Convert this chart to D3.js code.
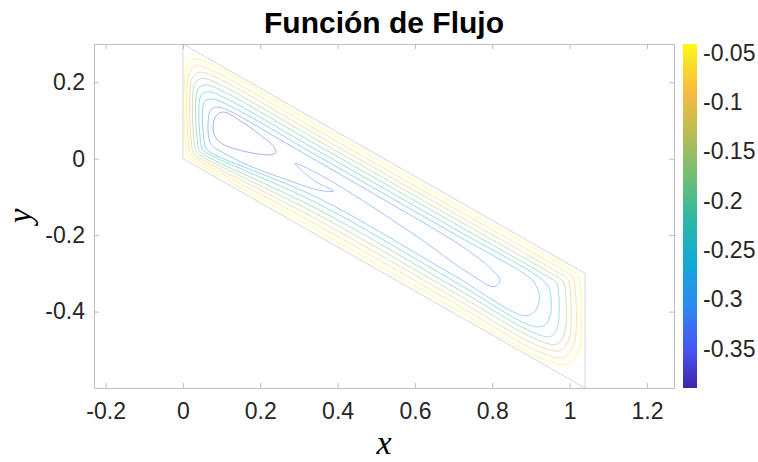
<!DOCTYPE html>
<html>
<head>
<meta charset="utf-8">
<script src="https://cdn.jsdelivr.net/npm/d3@7"></script>
<style>
  body { margin: 0; background: #fff; }
  text { font-family: "Liberation Sans", Arial, sans-serif; }
</style>
</head>
<body>
<div id="chart"></div>
<script>

/* contour levels, from the vortex eye outwards */
var levels = [-0.36, -0.32, -0.28, -0.24, -0.20, -0.16, -0.12, -0.08, -0.04]

/* contour lines as [x, y] points, same order as levels */
var eyeLine = [[0.078,0.080],[0.082,0.105],[0.095,0.120],[0.110,0.121],[0.150,0.098],[0.200,0.062],[0.236,0.030],[0.240,0.016],[0.225,0.010],[0.190,0.013],[0.140,0.024],[0.100,0.040],[0.083,0.058]]
var forkLine = [[0.066,0.060],[0.066,0.105],[0.072,0.128],[0.090,0.135],[0.130,0.120],[0.220,0.068],[0.350,-0.008],[0.550,-0.125],[0.720,-0.228],[0.790,-0.282],[0.820,-0.318],[0.805,-0.335],[0.740,-0.300],[0.600,-0.200],[0.450,-0.100],[0.350,-0.040],[0.290,-0.012],[0.340,-0.058],[0.390,-0.085],[0.350,-0.082],[0.260,-0.052],[0.170,-0.018],[0.100,0.018],[0.074,0.035]]
var line28 = [[0.056,0.150],[0.056,0.038],[0.061,0.025],[0.081,0.011],[0.35,-0.103],[0.70,-0.305],[0.884,-0.411],[0.911,-0.398],[0.922,-0.365],[0.914,-0.333],[0.897,-0.312],[0.70,-0.196],[0.35,0.006],[0.124,0.137],[0.076,0.156]]
var line24 = [[0.047,0.166],[0.047,0.035],[0.052,0.022],[0.072,0.009],[0.35,-0.118],[0.70,-0.320],[0.904,-0.438],[0.935,-0.436],[0.950,-0.410],[0.952,-0.370],[0.946,-0.337],[0.927,-0.315],[0.70,-0.182],[0.35,0.020],[0.114,0.156],[0.067,0.175]]
var line20 = [[0.039,0.182],[0.039,0.032],[0.044,0.019],[0.064,0.005],[0.35,-0.133],[0.70,-0.335],[0.911,-0.457],[0.952,-0.465],[0.969,-0.440],[0.969,-0.331],[0.964,-0.322],[0.944,-0.309],[0.70,-0.168],[0.35,0.034],[0.104,0.176],[0.059,0.193]]
var line16 = [[0.031,0.197],[0.031,0.028],[0.036,0.016],[0.056,0.002],[0.35,-0.147],[0.70,-0.349],[0.919,-0.475],[0.967,-0.485],[0.987,-0.456],[0.987,-0.330],[0.982,-0.319],[0.962,-0.306],[0.70,-0.155],[0.35,0.047],[0.095,0.194],[0.050,0.210]]
var line12 = [[0.024,0.211],[0.024,0.024],[0.029,0.012],[0.049,-0.002],[0.35,-0.161],[0.70,-0.363],[0.922,-0.491],[0.976,-0.502],[0.999,-0.469],[0.999,-0.325],[0.994,-0.314],[0.974,-0.300],[0.70,-0.142],[0.35,0.060],[0.087,0.212],[0.043,0.226]]
var line08 = [[0.017,0.226],[0.017,0.020],[0.022,0.008],[0.042,-0.006],[0.35,-0.175],[0.70,-0.377],[0.925,-0.507],[0.986,-0.519],[1.012,-0.482],[1.012,-0.321],[1.007,-0.308],[0.987,-0.294],[0.70,-0.129],[0.35,0.073],[0.079,0.229],[0.036,0.243]]
var line04 = [[0.010,0.240],[0.010,0.016],[0.015,0.004],[0.035,-0.010],[0.35,-0.189],[0.70,-0.391],[0.929,-0.523],[0.996,-0.537],[1.025,-0.496],[1.025,-0.317],[1.020,-0.303],[1.000,-0.289],[0.70,-0.116],[0.35,0.086],[0.071,0.247],[0.028,0.259]]
var contourLines = [eyeLine, forkLine, line28, line24, line20, line16, line12, line08, line04]

/* the skewed cavity outline */
var boundaryX = [0, 0, 1.04, 1.04]
var boundaryY = [0, 0.3, -0.3, -0.6]

/* axes and colorbar */
var xTicks = [-0.2, 0, 0.2, 0.4, 0.6, 0.8, 1, 1.2]
var yTicks = [-0.4, -0.2, 0, 0.2]
var cbTicks = [-0.35, -0.3, -0.25, -0.2, -0.15, -0.1, -0.05]
var cbLimits = [-0.39, -0.041]
var parulaPos = [0, 0.11, 0.24, 0.365, 0.49, 0.62, 0.75, 0.87, 1]
var parulaColors = ["#3e26a8", "#4852f4", "#2d8bf0", "#13a9d6", "#2cb8a3", "#72bf73", "#c0bc52", "#fbbc3c", "#f9fb15"]

var layout = {
  width: 758,
  height: 462,
  plotLeft: 94,
  plotRight: 674,
  plotTop: 44,
  plotBottom: 388,
  xDomain: [-0.23, 1.27],
  yDomain: [-0.6, 0.3],
  cbLeft: 683,
  cbWidth: 14,
  tickLen: 5,
  tickFont: 23,
  axisColor: "#bdbdbd",
  textColor: "#262626",
}

var x = d3.scaleLinear().domain(layout.xDomain).range([layout.plotLeft, layout.plotRight])
var y = d3.scaleLinear().domain(layout.yDomain).range([layout.plotBottom, layout.plotTop])
var cb = d3.scaleLinear().domain(cbLimits).range([layout.plotBottom, layout.plotTop])

// parula laid over the color limits
var colorStops = parulaPos.map(function(p) {
  return cbLimits[0] + (cbLimits[1] - cbLimits[0]) * p
})
var color = d3.scaleLinear().domain(colorStops).range(parulaColors).clamp(true)

var tickText = function(d) { return String(+d.toFixed(2)) }

var svg = d3.select("#chart").append("svg")
  .attr("width", layout.width)
  .attr("height", layout.height)

/* cavity outline */
var boundary = boundaryX.map(function(d, i) { return [d, boundaryY[i]] })
svg.append("path")
  .attr("d", d3.line().x(function(d) { return x(d[0]) }).y(function(d) { return y(d[1]) })(boundary) + "Z")
  .style("fill", "none")
  .style("stroke", "#d6d6d6")
  .style("stroke-width", 1)

/* contour lines */
var contourPath = d3.line()
  .x(function(d) { return x(d[0]) })
  .y(function(d) { return y(d[1]) })
  .curve(d3.curveCatmullRomClosed.alpha(0.5))

svg.selectAll(".contour").data(contourLines).enter()
  .append("path")
  .attr("class", "contour")
  .attr("d", contourPath)
  .style("fill", "none")
  .style("stroke", function(d, i) { return color(levels[i]) })
  .style("stroke-width", 0.9)
  .style("stroke-opacity", 0.5)

/* axes box with inward ticks on all sides */
var xAxis = svg.append("g")
  .attr("transform", "translate(0," + layout.plotBottom + ")")
  .call(d3.axisBottom(x).tickValues(xTicks).tickSizeInner(-layout.tickLen).tickSizeOuter(0).tickPadding(15).tickFormat(tickText))
var xAxisTop = svg.append("g")
  .attr("transform", "translate(0," + layout.plotTop + ")")
  .call(d3.axisTop(x).tickValues(xTicks).tickSizeInner(-layout.tickLen).tickSizeOuter(0).tickFormat(""))
var yAxis = svg.append("g")
  .attr("transform", "translate(" + layout.plotLeft + ",0)")
  .call(d3.axisLeft(y).tickValues(yTicks).tickSizeInner(-layout.tickLen).tickSizeOuter(0).tickPadding(9).tickFormat(tickText))
var yAxisRight = svg.append("g")
  .attr("transform", "translate(" + layout.plotRight + ",0)")
  .call(d3.axisRight(y).tickValues(yTicks).tickSizeInner(-layout.tickLen).tickSizeOuter(0).tickFormat(""))

svg.selectAll(".domain, .tick line")
  .style("stroke", layout.axisColor)
svg.selectAll(".tick text")
  .style("fill", layout.textColor)
  .style("font-size", layout.tickFont + "px")
  .style("font-family", "'Liberation Sans', Arial, sans-serif")

/* colorbar */
var grad = svg.append("defs").append("linearGradient")
  .attr("id", "parula")
  .attr("x1", 0).attr("y1", 1).attr("x2", 0).attr("y2", 0)
grad.selectAll("stop").data(parulaColors).enter()
  .append("stop")
  .attr("offset", function(d, i) { return parulaPos[i] })
  .attr("stop-color", function(d) { return d })

svg.append("rect")
  .attr("x", layout.cbLeft)
  .attr("y", cb(cbLimits[1]))
  .attr("width", layout.cbWidth)
  .attr("height", cb(cbLimits[0]) - cb(cbLimits[1]))
  .style("fill", "url(#parula)")

svg.selectAll(".cbLabel").data(cbTicks).enter()
  .append("text")
  .attr("class", "cbLabel")
  .text(tickText)
  .attr("x", layout.cbLeft + layout.cbWidth + 6)
  .attr("y", function(d) { return cb(d) })
  .attr("dy", "0.35em")
  .style("fill", layout.textColor)
  .style("font-size", layout.tickFont + "px")

/* titles */
svg.append("text")
  .text("Función de Flujo")
  .attr("x", (layout.plotLeft + layout.plotRight) / 2)
  .attr("y", 33)
  .attr("text-anchor", "middle")
  .style("font-weight", "bold")
  .style("font-size", "30px")
  .style("fill", "#000")

svg.append("text")
  .text("x")
  .attr("x", (layout.plotLeft + layout.plotRight) / 2)
  .attr("y", 454)
  .attr("text-anchor", "middle")
  .style("font-family", "'Liberation Serif', 'DejaVu Serif', serif")
  .style("font-style", "italic")
  .style("font-size", "34px")
  .style("fill", "#000")

svg.append("text")
  .text("y")
  .attr("transform", "translate(31," + (layout.plotTop + layout.plotBottom) / 2 + ") rotate(-90)")
  .attr("text-anchor", "middle")
  .style("font-family", "'Liberation Serif', 'DejaVu Serif', serif")
  .style("font-style", "italic")
  .style("font-size", "33px")
  .style("fill", "#000")

</script>
</body>
</html>
